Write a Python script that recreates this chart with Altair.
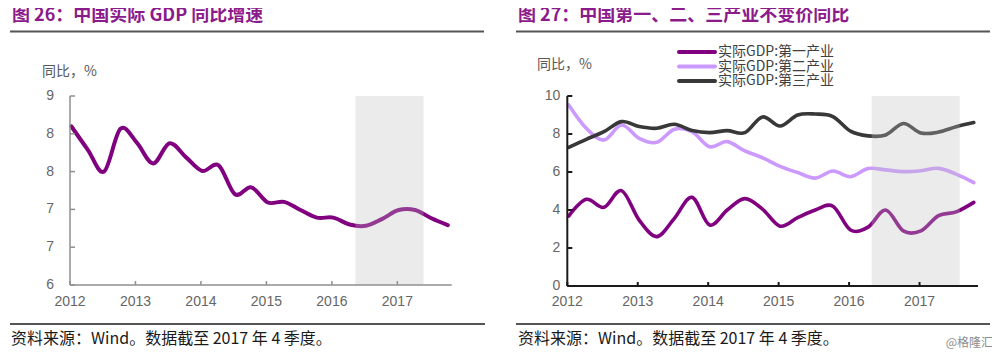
import altair as alt
import pandas as pd

# ---------------- data ----------------
quarters = [f"{y}Q{q}" for y in range(2012, 2018) for q in range(1, 5)]

gdp = [8.52, 8.15, 7.80, 8.48, 8.26, 7.93, 8.25, 8.03, 7.81, 7.90, 7.44, 7.55,
       7.31, 7.32, 7.19, 7.07, 7.07, 6.96, 6.94, 7.05, 7.19, 7.19, 7.06, 6.95]

primary = [3.68, 4.56, 4.14, 5.02, 3.47, 2.60, 3.56, 4.67, 3.21, 4.00, 4.60, 4.05,
           3.15, 3.60, 4.00, 4.20, 2.95, 3.10, 4.00, 2.90, 2.90, 3.70, 3.90, 4.40]
secondary = [9.53, 8.30, 7.68, 8.47, 7.77, 7.56, 8.25, 8.12, 7.33, 7.60, 7.11, 6.75,
             6.30, 5.97, 5.68, 6.05, 5.75, 6.18, 6.11, 6.02, 6.07, 6.19, 5.89, 5.44]
tertiary = [7.30, 7.72, 8.12, 8.65, 8.39, 8.30, 8.51, 8.18, 8.07, 8.18, 8.07, 8.90,
            8.42, 9.00, 9.05, 8.92, 8.15, 7.90, 7.95, 8.55, 8.05, 8.10, 8.38, 8.60]

series_names = ["实际GDP:第一产业", "实际GDP:第二产业", "实际GDP:第三产业"]
series_colors = ["#800080", "#cc99ff", "#383838"]

left_yticks = [6, 6.6, 7.2, 7.8, 8.4, 9]
right_yticks = [0, 2, 4, 6, 8, 10]
year_ticks = [2012, 2013, 2014, 2015, 2016, 2017]

left_band = [2016.36, 2017.40]
right_band = [2016.32, 2017.57]

title_left = "图 26：中国实际 GDP 同比增速"
title_right = "图 27：中国第一、二、三产业不变价同比"
unit_label = "同比，%"
footnote = "资料来源：Wind。数据截至 2017 年 4 季度。"
watermark = "@格隆汇"

# ---------------- helpers ----------------
def P(v):
    return v - 8

def qpos(q):
    y, n = q.split("Q")
    return int(y) + (int(n) - 1) * 0.25 + 0.02

tpos = [qpos(q) for q in quarters]

CJK = "Noto Sans CJK SC"
LAT = "Liberation Sans"
X_DOM = [2012, 2017.83]

LX = alt.Scale(domain=X_DOM, range=[P(70), P(451.7)], nice=False, zero=False)
LY = alt.Scale(domain=[6, 9], range=[P(285), P(96)], nice=False, zero=False)
RX = alt.Scale(domain=X_DOM, range=[P(567.3), P(978)], nice=False, zero=False)
RY = alt.Scale(domain=[0, 10], range=[P(286), P(96)], nice=False, zero=False)

one = pd.DataFrame({"a": [0]})


def text(t, x, y, size, color, weight="normal", align="left", font=CJK):
    return alt.Chart(one).mark_text(
        text=t, align=align, baseline="middle", fontSize=size, font=font,
        fontWeight=weight, color=color
    ).encode(x=alt.value(P(x)), y=alt.value(P(y)))


def hrule(x1, x2, y, color, w):
    return alt.Chart(one).mark_rule(color=color, strokeWidth=w).encode(
        x=alt.value(P(x1)), x2=alt.value(P(x2)), y=alt.value(P(y)))


def panel(xs, ys, ydom, yticks, band, axis_color, axis_w, ylab_dx, xlab_dy,
          yfmt, lines):
    layers = []
    for df, color, width in lines:
        layers.append(
            alt.Chart(df).mark_line(interpolate="cardinal", color=color,
                                    strokeWidth=width, strokeCap="round")
            .encode(x=alt.X("t:Q", scale=xs, axis=None),
                    y=alt.Y("v:Q", scale=ys, axis=None))
        )
    bdf = pd.DataFrame({"x0": [band[0]], "x1": [band[1]],
                        "y0": [ydom[0]], "y1": [ydom[1]]})
    layers.append(
        alt.Chart(bdf).mark_rect(color="#bfbfbf", opacity=0.31)
        .encode(x=alt.X("x0:Q", scale=xs, axis=None), x2="x1:Q",
                y=alt.Y("y0:Q", scale=ys, axis=None), y2="y1:Q")
    )
    # axis lines
    adf = pd.DataFrame({"x0": [X_DOM[0]], "x1": [X_DOM[1]],
                        "y0": [ydom[0]], "y1": [ydom[1]]})
    layers.append(
        alt.Chart(adf).mark_rule(color=axis_color, strokeWidth=axis_w)
        .encode(x=alt.X("x0:Q", scale=xs, axis=None),
                y=alt.Y("y0:Q", scale=ys, axis=None), y2="y1:Q")
    )
    layers.append(
        alt.Chart(adf).mark_rule(color=axis_color, strokeWidth=axis_w)
        .encode(x=alt.X("x0:Q", scale=xs, axis=None), x2="x1:Q",
                y=alt.Y("y0:Q", scale=ys, axis=None))
    )
    # y ticks + labels
    ydf = pd.DataFrame({"x": [X_DOM[0]] * len(yticks), "y": yticks})
    layers.append(
        alt.Chart(ydf).mark_tick(orient="horizontal", size=5, thickness=axis_w,
                                 xOffset=2.5, color=axis_color, opacity=1)
        .encode(x=alt.X("x:Q", scale=xs, axis=None),
                y=alt.Y("y:Q", scale=ys, axis=None))
    )
    layers.append(
        alt.Chart(ydf).mark_text(align="right", baseline="middle", dx=ylab_dx,
                                 fontSize=14, font=LAT, color="#666666")
        .encode(x=alt.X("x:Q", scale=xs, axis=None),
                y=alt.Y("y:Q", scale=ys, axis=None),
                text=alt.Text("y:Q", format=yfmt))
    )
    # x ticks + labels
    xdf = pd.DataFrame({"x": year_ticks, "y": [ydom[0]] * len(year_ticks)})
    layers.append(
        alt.Chart(xdf).mark_tick(orient="vertical", size=4, thickness=axis_w,
                                 yOffset=-2, color=axis_color, opacity=1)
        .encode(x=alt.X("x:Q", scale=xs, axis=None),
                y=alt.Y("y:Q", scale=ys, axis=None))
    )
    layers.append(
        alt.Chart(xdf).mark_text(align="center", baseline="middle", dy=xlab_dy,
                                 fontSize=14, font=LAT, color="#666666")
        .encode(x=alt.X("x:Q", scale=xs, axis=None),
                y=alt.Y("y:Q", scale=ys, axis=None),
                text=alt.Text("x:Q", format="d"))
    )
    return alt.layer(*layers)


left_df = pd.DataFrame({"t": tpos, "v": gdp})
r1 = pd.DataFrame({"t": tpos, "v": primary})
r2 = pd.DataFrame({"t": tpos, "v": secondary})
r3 = pd.DataFrame({"t": tpos, "v": tertiary})

left = panel(LX, LY, [6, 9], left_yticks, left_band, "#8f8f8f", 1.5, -16, 17,
             ".0f", [(left_df, "#800080", 4)])
right = panel(RX, RY, [0, 10], right_yticks, right_band, "#1a1a1a", 2, -7, 16,
              "d", [(r1, series_colors[0], 3.6), (r2, series_colors[1], 3.6),
                    (r3, series_colors[2], 3.6)])

deco = [
    text(title_left, 12, 16, 18, "#8b1a8b", "bold"),
    text(title_right, 518, 16, 18, "#8b1a8b", "bold"),
    hrule(10, 484, 31.5, "#555555", 2),
    hrule(516, 990, 31.5, "#555555", 2),
    hrule(10, 485, 324, "#555555", 2),
    hrule(516, 990, 324, "#555555", 2),
    text(unit_label, 42, 72, 14, "#595959"),
    text(unit_label, 537, 65, 14, "#595959"),
    text(footnote, 11, 339, 16, "#1a1a1a"),
    text(footnote, 518, 339, 16, "#1a1a1a"),
    text(watermark, 993, 343, 12, "#8c8c8c", align="right"),
]
legend_y = [52, 66.5, 81]
for name, col, ly in zip(series_names, series_colors, legend_y):
    deco.append(
        alt.Chart(one).mark_rule(color=col, strokeWidth=4, strokeCap="round")
        .encode(x=alt.value(P(679)), x2=alt.value(P(715)), y=alt.value(P(ly)))
    )
    deco.append(text(name, 718, ly, 14, "#404040"))

chart = alt.layer(left, right, *deco).resolve_scale(
    x="independent", y="independent"
).properties(
    width=984, height=342, autosize=alt.AutoSizeParams(type="none"), padding=0,
    background="white"
).configure_view(stroke=None)

chart.save("out.html", embed_options={"renderer": "svg", "actions": False})
